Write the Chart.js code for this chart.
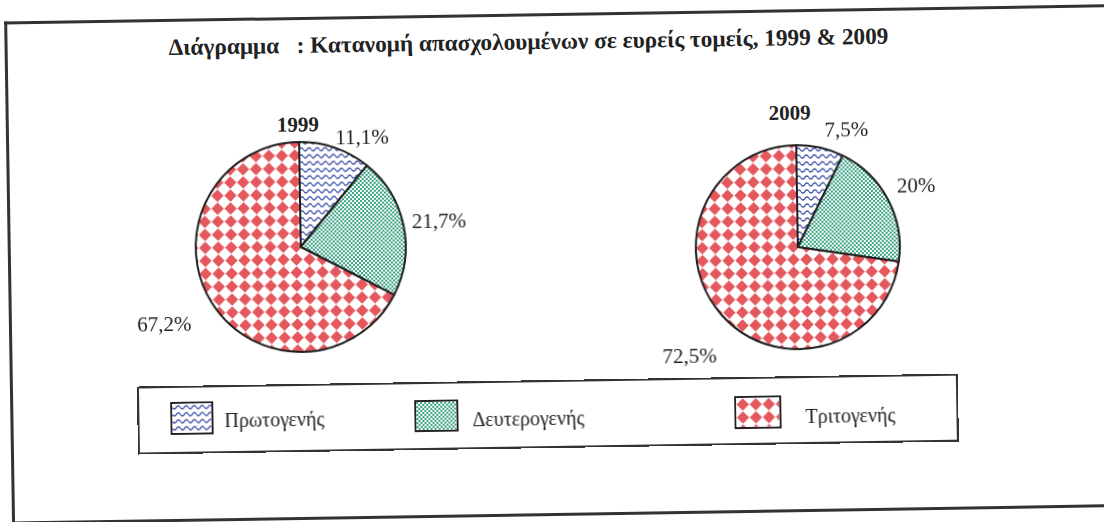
<!DOCTYPE html>
<html>
<head>
<meta charset="utf-8">
<script src="https://cdn.jsdelivr.net/npm/chart.js@4"></script>
<style>
    html, body { margin: 0; padding: 0; background: #fff; overflow: hidden; }
    #page {
        position: relative; width: 1104px; height: 522px;
        transform: rotate(-0.9deg); transform-origin: 552px 261px;
        font-family: "Liberation Serif", "DejaVu Serif", serif; color: #222;
    }
    .frame {
        position: absolute; left: 8px; top: 13px; width: 1200px; height: 497px;
        border: 3px solid #333; border-right: none;
    }
    .title {
        position: absolute; left: 172px; top: 27px; font-size: 23.3px; font-weight: bold;
        white-space: pre; line-height: 28px;
    }
    .year { position: absolute; font-size: 21px; font-weight: bold; transform: translate(-50%, -50%); }
    .pie { position: absolute; }
    .legend {
        position: absolute; left: 135px; top: 380px; width: 817px; height: 64px;
        border: 2px solid #333;
    }
    .swatch { position: absolute; border: 2px solid #222; }
    .ltext { position: absolute; font-size: 20px; transform: translateY(-50%); white-space: nowrap; }
</style>
</head>
<body>
<div id="page">
    <div class="frame"></div>
    <div class="title">Διάγραμμα   : Κατανομή απασχολουμένων σε ευρείς τομείς, 1999 &amp; 2009</div>
    <div class="year" id="year0" style="left:300px; top:121px;"></div>
    <div class="year" id="year1" style="left:792px; top:117px;"></div>
    <div class="pie" style="left:121px; top:93px;"><canvas id="pie1999" width="360" height="300"></canvas></div>
    <div class="pie" style="left:618px; top:101px;"><canvas id="pie2009" width="360" height="300"></canvas></div>
    <div class="legend" id="legend"></div>
</div>
<script>
// Data
const categories = ['Πρωτογενής', 'Δευτερογενής', 'Τριτογενής'];
const years = ['1999', '2009'];
const values1999 = [11.1, 21.7, 67.2];
const values2009 = [7.5, 20, 72.5];

// Hatch patterns like the printed chart
function makeTile(w, h, draw) {
    const c = document.createElement('canvas');
    c.width = w;
    c.height = h;
    const g = c.getContext('2d');
    g.fillStyle = '#fff';
    g.fillRect(0, 0, w, h);
    draw(g);
    return c;
}

const tiles = [
    // wavy blue lines
    makeTile(8, 7, function (g) {
        g.strokeStyle = '#3b4da6';
        g.lineWidth = 1.3;
        g.beginPath();
        for (let x = 0; x <= 8; x += 0.5) {
            const y = 3.5 + 1.6 * Math.sin(2 * Math.PI * x / 8);
            if (x === 0) g.moveTo(x, y); else g.lineTo(x, y);
        }
        g.stroke();
    }),
    // fine green checker
    makeTile(4, 4, function (g) {
        g.fillStyle = '#3aa283';
        g.fillRect(0, 0, 2, 2);
        g.fillRect(2, 2, 2, 2);
    }),
    // red diamonds
    makeTile(13, 13, function (g) {
        g.fillStyle = '#e4575d';
        g.beginPath();
        g.moveTo(6.5, 0.3);
        g.lineTo(12.7, 6.5);
        g.lineTo(6.5, 12.7);
        g.lineTo(0.3, 6.5);
        g.closePath();
        g.fill();
    })
];

function patternsFor(ctx) {
    return tiles.map(function (t) { return ctx.createPattern(t, 'repeat'); });
}

// Percent labels outside the slices
const outsideLabels = {
    id: 'outsideLabels',
    afterDatasetsDraw(chart, args, opts) {
        const ctx = chart.ctx;
        const meta = chart.getDatasetMeta(0);
        const data = chart.data.datasets[0].data;
        ctx.save();
        ctx.font = '21px "Liberation Serif", serif';
        ctx.fillStyle = '#222';
        ctx.textAlign = 'center';
        ctx.textBaseline = 'middle';
        meta.data.forEach(function (arc, i) {
            const p = arc.getProps(['x', 'y', 'startAngle', 'endAngle', 'outerRadius'], true);
            const mid = (p.startAngle + p.endAngle) / 2;
            const d = p.outerRadius + 24;
            const nudge = opts.nudge[i];
            const x = p.x + Math.cos(mid) * d + nudge[0];
            const y = p.y + Math.sin(mid) * d + nudge[1];
            ctx.fillText(String(data[i]).replace('.', ',') + '%', x, y);
        });
        ctx.restore();
    }
};

function makePie(id, values, radius, nudge) {
    const ctx = document.getElementById(id).getContext('2d');
    return new Chart(ctx, {
        type: 'pie',
        data: {
            labels: categories,
            datasets: [{
                data: values,
                backgroundColor: patternsFor(ctx),
                borderColor: '#1e1e1e',
                borderWidth: 2,
                radius: radius
            }]
        },
        options: {
            responsive: false,
            animation: false,
            events: [],
            plugins: {
                legend: { display: false },
                tooltip: { enabled: false },
                outsideLabels: { nudge: nudge }
            }
        },
        plugins: [outsideLabels]
    });
}

makePie('pie1999', values1999, 105, [[19, 14], [12, 2], [-27, 10]]);
makePie('pie2009', values2009, 102, [[21, 7], [7, -1], [-14, 27]]);

document.getElementById('year0').textContent = years[0];
document.getElementById('year1').textContent = years[1];

// Legend box shared by both pies
const legendBox = document.getElementById('legend');
const swatchPos = [[31, 14, 43, 33], [275, 16, 44, 32], [595, 17, 47, 33]];
const textPos = [[85, 33], [333, 36], [666, 38]];
categories.forEach(function (name, i) {
    const s = swatchPos[i];
    const c = document.createElement('canvas');
    c.className = 'swatch';
    c.width = s[2] - 4;
    c.height = s[3] - 4;
    c.style.left = s[0] + 'px';
    c.style.top = s[1] + 'px';
    const g = c.getContext('2d');
    g.fillStyle = g.createPattern(tiles[i], 'repeat');
    g.fillRect(0, 0, c.width, c.height);
    legendBox.appendChild(c);

    const t = document.createElement('div');
    t.className = 'ltext';
    t.textContent = name;
    t.style.left = textPos[i][0] + 'px';
    t.style.top = textPos[i][1] + 'px';
    legendBox.appendChild(t);
});
</script>
</body>
</html>
